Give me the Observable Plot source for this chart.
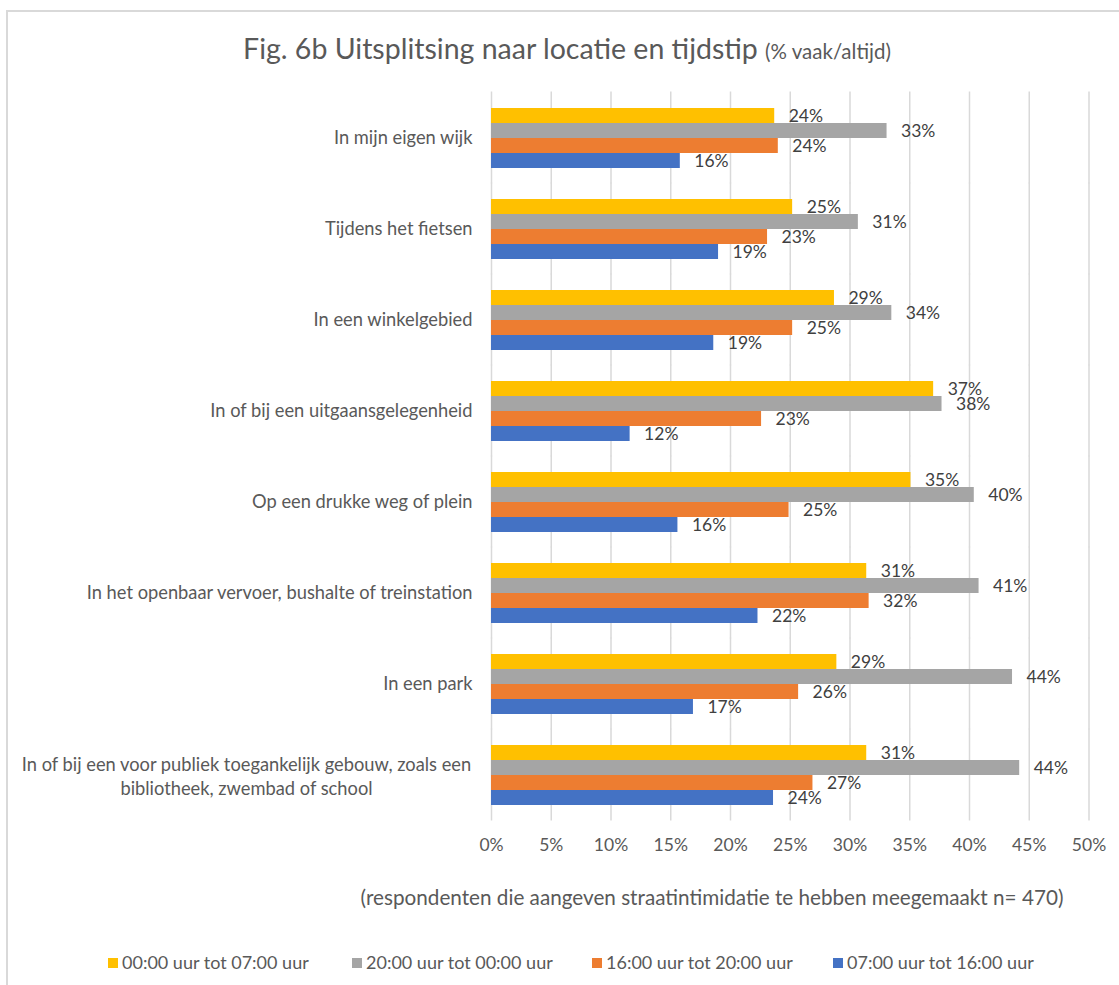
<!DOCTYPE html>
<html>
<head>
<meta charset="utf-8">
<script src="https://cdn.jsdelivr.net/npm/d3@7"></script>
<script src="https://cdn.jsdelivr.net/npm/@observablehq/plot@0.6"></script>
<style>
  html, body { margin: 0; padding: 0; background: #fff; }
  #wrap { position: relative; width: 1119px; height: 985px; overflow: hidden; background: #fff; font-family: Lato, "Noto Sans", sans-serif; }
  .bt { position: absolute; left: 6px; top: 10px; right: 0; height: 2px; background: #d9d9d9; }
  .bl { position: absolute; left: 6px; top: 10px; bottom: 0; width: 2px; background: #d9d9d9; }
  #title { position: absolute; left: 0; width: 1134px; top: 31px; line-height: 34px; text-align: center; color: #595959; font-size: 28.5px; white-space: nowrap; }
  #title small { font-size: 20.5px; }
  #caption { position: absolute; left: 312px; width: 800px; top: 884px; line-height: 26px; text-align: center; color: #595959; font-size: 20.7px; white-space: nowrap; }
  #chart { position: absolute; left: 0; top: 0; }
  .leg { position: absolute; top: 951px; line-height: 22px; font-size: 18px; color: #595959; white-space: nowrap; }
  .leg i { display: inline-block; width: 10px; height: 10px; margin-right: 4px; vertical-align: 1px; }
</style>
</head>
<body>
<div id="wrap">
  <div class="bt"></div><div class="bl"></div>
  <div id="title">Fig. 6b Uitsplitsing naar locatie en tijdstip <small>(% vaak/altijd)</small></div>
  <div id="chart"></div>
  <div id="caption">(respondenten die aangeven straatintimidatie te hebben meegemaakt n= 470)</div>
  <div id="legend"></div>
</div>
<script>
const locations = [
  "In mijn eigen wijk",
  "Tijdens het fietsen",
  "In een winkelgebied",
  "In of bij een uitgaansgelegenheid",
  "Op een drukke weg of plein",
  "In het openbaar vervoer, bushalte of treinstation",
  "In een park",
  "In of bij een voor publiek toegankelijk gebouw, zoals een\nbibliotheek, zwembad of school"
];
const series = ["00:00 uur tot 07:00 uur", "20:00 uur tot 00:00 uur", "16:00 uur tot 20:00 uur", "07:00 uur tot 16:00 uur"];
const colors = ["#FFC000", "#A5A5A5", "#ED7D31", "#4472C4"];
const night     = [23.7, 25.2, 28.7, 37.0, 35.1, 31.4, 28.9, 31.4];
const evening   = [33.1, 30.7, 33.5, 37.7, 40.4, 40.8, 43.6, 44.2];
const afternoon = [24.0, 23.1, 25.2, 22.6, 24.9, 31.6, 25.7, 26.9];
const daytime   = [15.8, 19.0, 18.6, 11.6, 15.6, 22.3, 16.9, 23.6];
const xTicks = [0, 5, 10, 15, 20, 25, 30, 35, 40, 45, 50];

const seriesValues = [night, evening, afternoon, daytime];
const rows = locations.flatMap((loc, i) => series.map((s, j) => ({loc, series: s, value: seriesValues[j][i]})));
const lastLoc = locations[locations.length - 1];

const chart = Plot.plot({
  width: 1119,
  height: 870,
  marginTop: 92,
  marginBottom: 51,
  marginLeft: 491,
  marginRight: 30.5,
  style: {fontFamily: "Lato, 'Noto Sans', sans-serif", background: "transparent"},
  x: {domain: [0, 50], axis: null},
  fy: {domain: locations, paddingInner: 0.33, paddingOuter: 0.155, axis: null},
  y: {domain: series, padding: 0, axis: null},
  color: {domain: series, range: colors},
  marks: [
    Plot.ruleX(xTicks, {x: d => d, stroke: "#d9d9d9", strokeWidth: 1.5, insetTop: -15.5, insetBottom: -15.5}),
    Plot.barX(rows, {fy: "loc", y: "series", x: "value", fill: "series"}),
    Plot.text(rows, {fy: "loc", y: "series", x: "value", text: d => Math.round(d.value) + "%", dx: 14, textAnchor: "start", fill: "#404040", fontSize: 17.5}),
    Plot.text(locations.filter(d => d !== lastLoc), {fy: d => d, text: d => d, frameAnchor: "left", dx: -19, textAnchor: "end", fill: "#595959", fontSize: 18.3}),
    Plot.text([lastLoc], {fy: d => d, text: d => d, frameAnchor: "left", dx: -245, textAnchor: "middle", fill: "#595959", fontSize: 18.3, lineHeight: 1.31}),
    Plot.axisX(xTicks, {tickSize: 0, tickPadding: 33, tickFormat: d => d + "%", fontSize: 17.5, color: "#595959", label: null})
  ]
});
document.getElementById("chart").appendChild(chart);

const legendX = [108, 352, 592, 833];
const legend = document.getElementById("legend");
series.forEach((s, i) => {
  const el = document.createElement("div");
  el.className = "leg";
  el.style.left = legendX[i] + "px";
  el.innerHTML = `<i style="background:${colors[i]}"></i>${s}`;
  legend.appendChild(el);
});
</script>
</body>
</html>
